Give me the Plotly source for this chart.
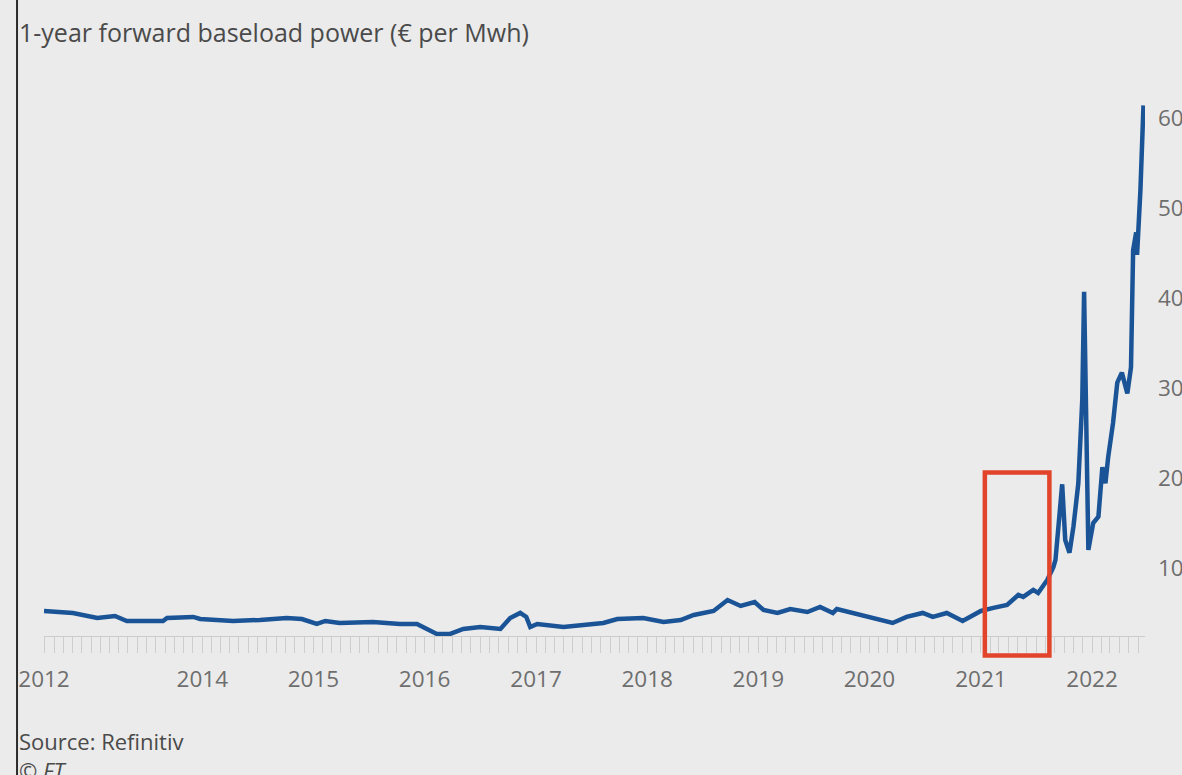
import plotly.graph_objects as go

# ---- data ----
dates = [
    "2012-07-30", "2012-11-02", "2013-01-21", "2013-03-20", "2013-04-28", "2013-08-25",
    "2013-09-07", "2013-12-02", "2013-12-25", "2014-04-12", "2014-07-09", "2014-10-05",
    "2014-11-24", "2015-01-12", "2015-02-09", "2015-03-28", "2015-07-15", "2015-10-12",
    "2015-12-07", "2016-02-10", "2016-03-25", "2016-05-07", "2016-07-02", "2016-09-06",
    "2016-10-08", "2016-11-10", "2016-11-30", "2016-12-13", "2017-01-05", "2017-04-01",
    "2017-08-10", "2017-09-25", "2017-12-19", "2018-02-24", "2018-04-21", "2018-06-03",
    "2018-08-07", "2018-09-22", "2018-11-04", "2018-12-20", "2019-01-18", "2019-03-05",
    "2019-04-16", "2019-06-11", "2019-07-23", "2019-09-03", "2019-09-16", "2019-11-07",
    "2020-01-11", "2020-03-17", "2020-05-02", "2020-06-24", "2020-07-27", "2020-09-11",
    "2020-11-02", "2021-01-01", "2021-02-11", "2021-03-06", "2021-03-28", "2021-05-04",
    "2021-05-20", "2021-06-22", "2021-07-08", "2021-07-31", "2021-08-07", "2021-08-27",
    "2021-09-03", "2021-09-25", "2021-10-05", "2021-10-19", "2021-11-01", "2021-11-17",
    "2021-11-30", "2021-12-06", "2021-12-13", "2021-12-20", "2022-01-05", "2022-01-22",
    "2022-02-04", "2022-02-14", "2022-02-23", "2022-03-11", "2022-03-25", "2022-04-09",
    "2022-04-27", "2022-05-09", "2022-05-16", "2022-05-26", "2022-05-29", "2022-06-09",
    "2022-06-19",
]
price = [
    52.2, 50, 44.4, 46.7, 41.1, 41.1,
    44.4, 45.6, 43.3, 41.1, 42.2, 44.4,
    43.3, 37.8, 41.1, 38.9, 40, 37.8,
    37.8, 26.7, 26.7, 32.2, 34.4, 32.2,
    44.4, 50, 45.6, 34.4, 37.8, 34.4,
    38.9, 43.3, 44.4, 40, 42.2, 47.8,
    52.2, 64.4, 57.8, 62.2, 53.3, 50,
    54.4, 51.1, 56.7, 50, 54.4, 50,
    44.4, 38.9, 45.6, 50, 45.6, 50,
    41.1, 52.2, 55.6, 56.7, 58.9, 70,
    67.8, 75.6, 72.2, 83.3, 86.7, 101,
    109, 193, 131, 117, 146, 194,
    287, 407, 231, 120, 150, 157,
    212, 194, 223, 261, 306, 317,
    294, 323, 453, 473, 448, 520,
    614,
]

x_tick_vals = ["2012-07-30", "2014-01-01", "2015-01-01", "2016-01-01", "2017-01-01",
               "2018-01-01", "2019-01-01", "2020-01-01", "2021-01-01", "2022-01-01"]
x_tick_text = ["2012", "2014", "2015", "2016", "2017", "2018", "2019", "2020", "2021", "2022"]
y_tick_vals = [100, 200, 300, 400, 500, 600]
y_tick_text = ["100", "200", "300", "400", "500", "600"]

highlight_start = "2021-01-14"
highlight_end = "2021-08-14"

title = "1-year forward baseload power (€ per Mwh)"
source = "Source: Refinitiv"
credit = "© FT"

BG = "#ebebeb"
FONT = "Open Sans"

fig = go.Figure()
fig.add_trace(go.Scatter(
    x=dates, y=price, mode="lines",
    line=dict(color="#1a5497", width=4.5),
    hoverinfo="skip", showlegend=False,
))

fig.update_layout(
    width=1182, height=775,
    margin=dict(l=44, r=37, t=100, b=139, autoexpand=False),
    paper_bgcolor=BG, plot_bgcolor=BG,
    font=dict(family=FONT, color="#6b6b6b", size=22),
    showlegend=False,
    xaxis=dict(
        type="date", automargin=False,
        range=["2012-07-30", "2022-06-24"],
        tickmode="array", tickvals=x_tick_vals, ticktext=x_tick_text,
        ticks="", showgrid=False, zeroline=False,
        showline=True, linecolor="#cccccc", linewidth=1,
        ticklabelstandoff=23,
        tickfont=dict(size=22.5, color="#6e6e6e"),
        minor=dict(ticks="outside", ticklen=16, tickwidth=1, tickcolor="#cdcdcd",
                   dtick="M1", tick0="2012-08-01", showgrid=False),
    ),
    yaxis=dict(
        side="right", automargin=False,
        range=[24.4, 620],
        tickmode="array", tickvals=y_tick_vals, ticktext=y_tick_text,
        ticks="", showgrid=False, zeroline=False, showline=False,
        ticklabelstandoff=12,
        tickfont=dict(size=22.5, color="#6e6e6e"),
    ),
    annotations=[
        dict(text=title, xref="paper", yref="paper", x=-0.0245, y=1.127,
             xanchor="left", yanchor="middle", showarrow=False,
             font=dict(size=25, color="#4a4a4a", family=FONT)),
        dict(text=source, xref="paper", yref="paper", x=-0.0245, y=-0.196,
             xanchor="left", yanchor="middle", showarrow=False,
             font=dict(size=22, color="#4a4a4a", family=FONT)),
        dict(text="<i>" + credit + "</i>", xref="paper", yref="paper", x=-0.0245, y=-0.25,
             xanchor="left", yanchor="middle", showarrow=False,
             font=dict(size=22, color="#4a4a4a", family=FONT)),
    ],
    shapes=[
        dict(type="line", xref="paper", yref="paper", x0=-0.0245, x1=-0.0245,
             y0=-0.3, y1=1.2, line=dict(color="#2b2b2b", width=2), layer="above"),
        dict(type="rect", xref="x", yref="paper", x0=highlight_start, x1=highlight_end,
             y0=-0.0364, y1=0.305, line=dict(color="#e2432b", width=4.5),
             fillcolor="rgba(0,0,0,0)", layer="above"),
    ],
)

fig.write_html("out.html", config={"displayModeBar": False})
